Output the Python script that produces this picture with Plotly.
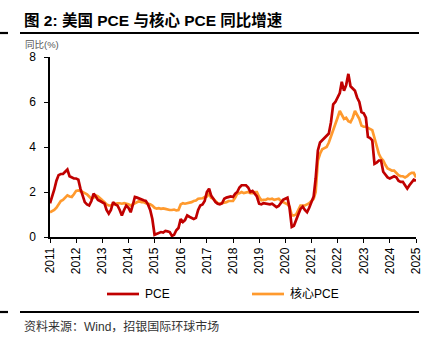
import pandas as pd
import plotly.graph_objects as go

start_month = "2011-01-01"
pce = [
    1.5, 1.8, 2.1, 2.5, 2.75, 2.8, 2.8, 2.9, 3.0, 2.7, 2.65, 2.6,
    2.6, 2.55, 2.15, 1.8, 1.55, 1.45, 1.4, 1.6, 1.93, 1.8, 1.65, 1.6,
    1.55, 1.48, 1.2, 1.04, 1.2, 1.55, 1.45, 1.4, 1.2, 0.96, 1.2, 1.4,
    1.3, 1.1, 1.4, 1.78, 1.75, 1.7, 1.68, 1.63, 1.6, 1.45, 1.2, 0.8,
    0.1, 0.15, 0.2, 0.22, 0.2, 0.27, 0.25, 0.22, 0.05, 0.1, 0.3, 0.4,
    0.8, 0.67, 0.75, 0.96, 0.9, 0.85, 0.8, 0.85, 1.2, 1.4, 1.45, 1.6,
    2.0, 2.15, 1.85, 1.7, 1.55, 1.48, 1.45, 1.5, 1.7, 1.75, 1.78, 1.8,
    1.78, 1.93, 2.0, 2.2, 2.3, 2.3, 2.3, 2.2, 2.0, 2.05, 1.9, 1.8,
    1.48, 1.45, 1.5, 1.48, 1.45, 1.45, 1.48, 1.4, 1.33, 1.38, 1.5, 1.65,
    1.7, 1.75, 1.3, 0.45, 0.5, 0.8, 1.0, 1.25, 1.35, 1.2, 1.1, 1.3,
    1.6, 1.8, 2.6, 3.85, 4.2, 4.3, 4.4, 4.5, 4.6, 5.1, 5.9, 6.0,
    6.2, 6.4, 6.9, 6.5, 6.75, 7.25, 6.7, 6.6, 6.5, 6.2, 6.0, 5.55,
    5.5, 5.3, 4.45, 4.4, 4.3, 3.25, 3.3, 3.4, 3.4, 2.9, 2.75, 2.65,
    2.6, 2.65, 2.7, 2.65, 2.5, 2.45, 2.45, 2.3, 2.15, 2.3, 2.45, 2.55,
    2.5,
]
core_pce = [
    1.1, 1.15, 1.2, 1.3, 1.45, 1.6, 1.65, 1.75, 1.85, 1.8, 1.78, 1.9,
    2.05, 2.07, 2.05, 2.0, 1.95, 1.9, 1.8, 1.7, 1.75, 1.85, 1.8, 1.7,
    1.63, 1.55, 1.45, 1.4, 1.4, 1.45, 1.48, 1.5, 1.5, 1.48, 1.5, 1.48,
    1.45, 1.4, 1.45, 1.5, 1.55, 1.6, 1.55, 1.55, 1.5, 1.48, 1.45, 1.4,
    1.3, 1.26, 1.28, 1.25, 1.27, 1.25, 1.22, 1.2, 1.2, 1.22, 1.18, 1.2,
    1.45, 1.5, 1.48, 1.5, 1.55, 1.55, 1.6, 1.62, 1.7, 1.7, 1.72, 1.78,
    1.8, 1.93, 1.75, 1.7, 1.6, 1.5, 1.48, 1.5, 1.55, 1.55, 1.6, 1.6,
    1.6, 1.75, 1.93, 1.95, 2.0, 1.95, 1.97, 2.0, 1.95, 1.95, 2.0, 2.0,
    1.78, 1.63, 1.65, 1.65, 1.7, 1.68, 1.7, 1.65, 1.68, 1.7, 1.6, 1.55,
    1.5, 1.45, 1.35, 0.96, 0.96, 1.0, 1.2, 1.4, 1.4, 1.4, 1.45, 1.5,
    1.6, 1.7, 2.0, 3.4, 3.7, 3.9, 3.95, 4.0, 4.2, 4.45, 4.8, 5.0,
    5.3, 5.6, 5.4, 5.25, 5.3, 5.15, 5.1, 5.3, 5.6, 5.4, 5.25, 4.95,
    4.9, 4.9, 4.85, 4.8, 4.75, 4.4, 4.0, 3.7, 3.5, 3.4, 3.2, 3.05,
    3.0, 2.95, 2.95, 2.85, 2.75, 2.7, 2.7, 2.65, 2.7, 2.8, 2.85, 2.85,
    2.65,
]
dates = pd.date_range(start_month, periods=len(pce), freq="MS")
series_names = ["PCE", "核心PCE"]
series_colors = ["#C00000", "#FF9A2E"]

title_text = "图 2: 美国 PCE 与核心 PCE 同比增速"
y_label = "同比(%)"
source_text = "资料来源：Wind，招银国际环球市场"

W, H = 440, 346
L, R, T, B = 50, 416, 57, 237

def px(x):
    return (x - L) / (R - L)

def py(y):
    return (B - y) / (B - T)

fig = go.Figure()
fig.add_trace(go.Scatter(x=dates, y=core_pce, mode="lines", name=series_names[1],
                         line=dict(color=series_colors[1], width=2.7), showlegend=False))
fig.add_trace(go.Scatter(x=dates, y=pce, mode="lines", name=series_names[0],
                         line=dict(color=series_colors[0], width=2.7), showlegend=False))

font_main = "Arial, Liberation Sans, Noto Sans CJK SC, sans-serif"

fig.update_layout(
    width=W, height=H,
    margin=dict(l=L, r=W - R, t=T, b=H - B),
    paper_bgcolor="white", plot_bgcolor="white",
    font=dict(family=font_main, size=12, color="#000"),
    xaxis=dict(
        type="date",
        range=[pd.Timestamp("2011-01-01"), pd.Timestamp("2025-01-01")],
        dtick="M12", tick0="2011-01-01", tickformat="%Y", tickangle=-90,
        showgrid=False, zeroline=False,
        showline=True, linecolor="#000", linewidth=1.5,
        ticks="outside", ticklen=4, tickcolor="#000", tickwidth=1.2,
        tickfont=dict(size=12, family=font_main),
    ),
    yaxis=dict(
        range=[0, 8], dtick=2, tick0=0,
        showgrid=False, zeroline=False,
        showline=True, linecolor="#000", linewidth=1.5,
        ticks="outside", ticklen=4, tickcolor="#000", tickwidth=1.2,
        ticklabelstandoff=6,
        tickfont=dict(size=12, family=font_main),
    ),
)

shapes = []
for yy in (33, 312):
    shapes.append(dict(type="line", xref="paper", yref="paper",
                       x0=px(20), x1=px(419), y0=py(yy), y1=py(yy),
                       line=dict(color="#000", width=2.2)))
    shapes.append(dict(type="line", xref="paper", yref="paper",
                       x0=px(0), x1=px(8), y0=py(yy), y1=py(yy),
                       line=dict(color="#000", width=2.2)))
leg = [(107, 139, 143), (252, 284, 288)]
for i, (a, b, t) in enumerate(leg):
    shapes.append(dict(type="line", xref="paper", yref="paper",
                       x0=px(a), x1=px(b), y0=py(294), y1=py(294),
                       line=dict(color=series_colors[i], width=2.7)))
fig.update_layout(shapes=shapes)

ann = [
    dict(text="<b>" + title_text + "</b>", x=px(22), y=py(20), xanchor="left", yanchor="middle",
         font=dict(size=15.5, family=font_main, color="#000")),
    dict(text=y_label, x=px(23), y=py(44), xanchor="left", yanchor="middle",
         font=dict(size=9.5, family=font_main, color="#555")),
    dict(text=source_text, x=px(22), y=py(326), xanchor="left", yanchor="middle",
         font=dict(size=12, family=font_main, color="#333")),
]
for i, (a, b, t) in enumerate(leg):
    ann.append(dict(text=series_names[i], x=px(t), y=py(294), xanchor="left", yanchor="middle",
                    font=dict(size=12, family=font_main, color="#000")))
for a in ann:
    a.update(xref="paper", yref="paper", showarrow=False)
fig.update_layout(annotations=ann)

fig.write_html("out.html")
